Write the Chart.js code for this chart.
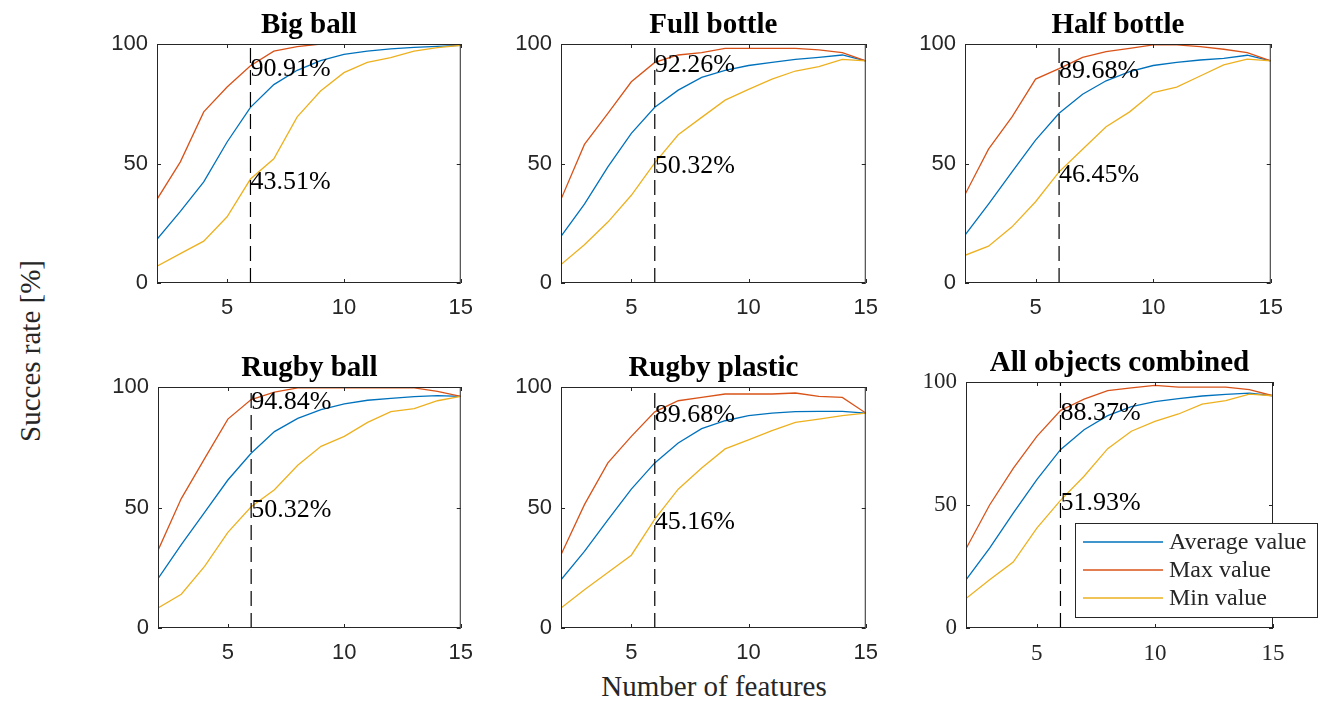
<!DOCTYPE html>
<html>
<head>
<meta charset="utf-8">
<script src="https://cdn.jsdelivr.net/npm/chart.js@4.4.1/dist/chart.umd.min.js"></script>
<style>
  body { margin: 0; background: #fff; }
  #fig { position: relative; width: 1324px; height: 702px; overflow: hidden; }
  canvas { position: absolute; }
  .lbl { position: absolute; font-family: "Liberation Serif", "DejaVu Serif", serif; font-size: 29px; color: #262626; white-space: nowrap; }
</style>
</head>
<body>
<div id="fig">
  <div class="lbl" id="ylab" style="left:30px; top:351px; transform: translate(-50%,-50%) rotate(-90deg);">Succes rate [%]</div>
  <div class="lbl" id="xlab" style="left:714px; top:686px; transform: translate(-50%,-50%);">Number of features</div>
</div>
<script>
const features = [2, 3, 4, 5, 6, 7, 8, 9, 10, 11, 12, 13, 14, 15];
const xTicks = [5, 10, 15];
const yTicks = [0, 50, 100];
const markedFeature = 6;
const seriesNames = ["Average value", "Max value", "Min value"];
const titles = ["Big ball", "Full bottle", "Half bottle", "Rugby ball", "Rugby plastic", "All objects combined"];

const avgBigBall = [18.3, 30, 42.3, 59, 73.5, 83, 89, 93, 95.7, 97, 98, 98.6, 99, 99.4];
const maxBigBall = [35, 50.7, 71.6, 82, 90.9, 97, 98.9, 100, 100, 100, 100, 100, 100, 99.6];
const minBigBall = [7, 12.3, 17.5, 27.7, 43.5, 52, 69.5, 80.3, 88, 92.3, 94.3, 97, 98.5, 99.4];

const avgFullBottle = [19.5, 33, 48.6, 62.6, 73.5, 80.7, 86, 89, 91, 92.3, 93.6, 94.4, 95.4, 92.9];
const maxFullBottle = [35, 58, 71, 84.2, 92.3, 95.4, 96.4, 98.2, 98.2, 98.2, 98.2, 97.5, 96.4, 92.9];
const minFullBottle = [7.7, 16, 25.5, 36.7, 50.3, 62, 69.3, 76.5, 81, 85.3, 88.7, 90.5, 93.6, 92.9];

const avgHalfBottle = [20, 33, 46.5, 59.8, 71, 79, 84.6, 88.4, 91, 92.3, 93.3, 94, 95.3, 92.9];
const maxHalfBottle = [37, 56, 69.5, 85.3, 89.7, 94.4, 96.8, 98.2, 99.6, 99.6, 98.9, 97.8, 96.4, 92.9];
const minHalfBottle = [11.6, 15.4, 23.5, 34, 46.5, 56, 65.4, 71.6, 79.7, 82, 86.6, 91.3, 93.7, 92.9];

const avgRugbyBall = [20.5, 34.6, 48, 61.4, 72.5, 81.5, 87, 90.6, 93, 94.5, 95.3, 96, 96.4, 96.1];
const maxRugbyBall = [32.2, 53.7, 70.3, 86.7, 94.8, 97.9, 99.6, 99.6, 99.6, 99.6, 99.6, 99.6, 98.2, 96.1];
const minRugbyBall = [8.3, 14, 25.6, 39.7, 50.3, 57.4, 67.5, 75.4, 79.5, 85.3, 89.8, 91, 94.3, 96.1];

const avgRugbyPlastic = [20, 31.8, 44.9, 57.6, 68.5, 76.8, 82.7, 86, 88.1, 89.2, 89.8, 89.9, 89.9, 89.2];
const maxRugbyPlastic = [30.4, 51.2, 68.5, 79.5, 89.7, 94.3, 95.7, 97.1, 97.1, 97.1, 97.5, 96.1, 95.7, 89.2];
const minRugbyPlastic = [8.3, 15.9, 23, 30.2, 45.2, 57.6, 66.4, 74.3, 78.1, 81.9, 85.3, 86.7, 88.1, 89.2];

const avgAll = [19.6, 32.5, 46.7, 60.3, 72.5, 80.6, 86.3, 90, 92, 93.2, 94.3, 95, 95.5, 94.4];
const maxAll = [32.2, 50, 64.9, 77.9, 88.4, 93, 96.5, 97.6, 98.6, 97.9, 97.9, 97.9, 96.9, 94.4];
const minAll = [12, 19.6, 26.8, 40.6, 51.9, 61.7, 72.9, 80, 84, 87, 91, 92.4, 95.1, 94.4];

const markedMax = ["90.91%", "92.26%", "89.68%", "94.84%", "89.68%", "88.37%"];
const markedMin = ["43.51%", "50.32%", "46.45%", "50.32%", "45.16%", "51.93%"];
const markedMaxY = [90.91, 92.26, 89.68, 94.84, 89.68, 88.37];
const markedMinY = [43.51, 50.32, 46.45, 50.32, 45.16, 51.93];

const avgSeries = [avgBigBall, avgFullBottle, avgHalfBottle, avgRugbyBall, avgRugbyPlastic, avgAll];
const maxSeries = [maxBigBall, maxFullBottle, maxHalfBottle, maxRugbyBall, maxRugbyPlastic, maxAll];
const minSeries = [minBigBall, minFullBottle, minHalfBottle, minRugbyBall, minRugbyPlastic, minAll];

// plot boxes in page pixels: left, top, right, bottom
const boxes = [
  [157, 44, 463, 283], [561, 44, 868, 283], [965, 44, 1273, 283],
  [158, 387, 463, 628], [561, 387, 868, 628], [966, 382, 1273, 628]
];
const colors = ["#0072BD", "#D95319", "#EDB120"];
const axisColor = "#262626";
const serif = '"Liberation Serif", "DejaVu Serif", serif';
const sans = '"Liberation Sans", Arial, sans-serif';

const padL = 60, padT = 44, padB = 45;

const decor = {
  id: 'decor',
  afterDatasetsDraw(chart, args, opts) {
    const { ctx, chartArea: a, scales: { x, y } } = chart;
    ctx.save();
    // dashed marker line
    const xm = x.getPixelForValue(markedFeature);
    ctx.strokeStyle = '#000';
    ctx.lineWidth = 1.2;
    ctx.setLineDash([15, 7]);
    ctx.beginPath();
    ctx.moveTo(xm, a.bottom);
    ctx.lineTo(xm, a.top);
    ctx.stroke();
    ctx.setLineDash([]);

    // box with inward ticks
    ctx.strokeStyle = axisColor;
    ctx.lineWidth = 1;
    ctx.strokeRect(a.left + 0.5, a.top + 0.5, a.width - 1, a.height - 1);
    ctx.beginPath();
    xTicks.forEach(v => {
      const px = Math.round(x.getPixelForValue(v)) + 0.5;
      ctx.moveTo(px, a.bottom); ctx.lineTo(px, a.bottom - 4);
      ctx.moveTo(px, a.top); ctx.lineTo(px, a.top + 4);
    });
    yTicks.forEach(v => {
      const py = Math.round(y.getPixelForValue(v)) + 0.5;
      ctx.moveTo(a.left, py); ctx.lineTo(a.left + 4, py);
      ctx.moveTo(a.right, py); ctx.lineTo(a.right - 4, py);
    });
    ctx.stroke();

    // annotations
    ctx.fillStyle = '#000';
    ctx.font = '26px ' + serif;
    ctx.textAlign = 'left';
    ctx.textBaseline = 'middle';
    ctx.fillText(opts.maxText, xm, y.getPixelForValue(opts.maxY) + 3);
    ctx.fillText(opts.minText, xm, y.getPixelForValue(opts.minY) + 3);

    // title
    ctx.font = 'bold 29px ' + serif;
    ctx.textAlign = 'center';
    ctx.textBaseline = 'alphabetic';
    ctx.fillText(opts.title, (a.left + a.right) / 2, a.top - 11);

    // legend
    if (opts.legend) {
      const lx = a.left + 109, ly = a.top + 141, lw = 242, lh = 94;
      ctx.fillStyle = '#fff';
      ctx.fillRect(lx, ly, lw, lh);
      ctx.strokeStyle = axisColor;
      ctx.strokeRect(lx + 0.5, ly + 0.5, lw, lh);
      ctx.font = '24px ' + serif;
      ctx.textAlign = 'left';
      ctx.textBaseline = 'middle';
      chart.data.datasets.forEach((ds, i) => {
        const ry = ly + 19 + i * 28;
        ctx.strokeStyle = ds.borderColor;
        ctx.lineWidth = 1.3;
        ctx.beginPath();
        ctx.moveTo(lx + 8, ry); ctx.lineTo(lx + 88, ry);
        ctx.stroke();
        ctx.fillStyle = axisColor;
        ctx.fillText(ds.label, lx + 94, ry + 1);
      });
    }
    ctx.restore();
  }
};

const fig = document.getElementById('fig');
boxes.forEach((b, k) => {
  const last = k === 5;
  const padR = last ? 1324 - b[2] : 22;
  const canvas = document.createElement('canvas');
  const w = padL + (b[2] - b[0]) + padR;
  const h = padT + (b[3] - b[1]) + padB;
  canvas.width = w; canvas.height = h;
  canvas.style.left = (b[0] - padL) + 'px';
  canvas.style.top = (b[1] - padT) + 'px';
  fig.appendChild(canvas);

  const series = [avgSeries[k], maxSeries[k], minSeries[k]];
  const tickFont = last ? { family: serif, size: 23 } : { family: sans, size: 22 };

  new Chart(canvas.getContext('2d'), {
    type: 'line',
    data: {
      datasets: series.map((s, i) => ({
        label: seriesNames[i],
        data: features.map((f, j) => ({ x: f, y: s[j] })),
        borderColor: colors[i],
        borderWidth: 1.3,
        pointRadius: 0,
        tension: 0,
        order: 3 - i
      }))
    },
    options: {
      responsive: false,
      animation: false,
      layout: { padding: { top: padT, right: padR, left: 0, bottom: 0 } },
      plugins: {
        legend: { display: false },
        tooltip: { enabled: false },
        decor: {
          title: titles[k],
          maxText: markedMax[k], maxY: markedMaxY[k],
          minText: markedMin[k], minY: markedMinY[k],
          legend: last
        }
      },
      scales: {
        x: {
          type: 'linear', min: 2, max: 15,
          afterBuildTicks: s => { s.ticks = xTicks.map(v => ({ value: v })); },
          afterFit: s => { s.height = padB; },
          grid: { display: false, drawTicks: false },
          border: { display: false },
          ticks: { font: tickFont, color: axisColor, padding: 12, maxRotation: 0, autoSkip: false }
        },
        y: {
          min: 0, max: 100,
          afterBuildTicks: s => { s.ticks = yTicks.map(v => ({ value: v })); },
          afterFit: s => { s.width = padL; },
          grid: { display: false, drawTicks: false },
          border: { display: false },
          ticks: { font: tickFont, color: axisColor, padding: 9 }
        }
      }
    },
    plugins: [decor]
  });
});
</script>
</body>
</html>
